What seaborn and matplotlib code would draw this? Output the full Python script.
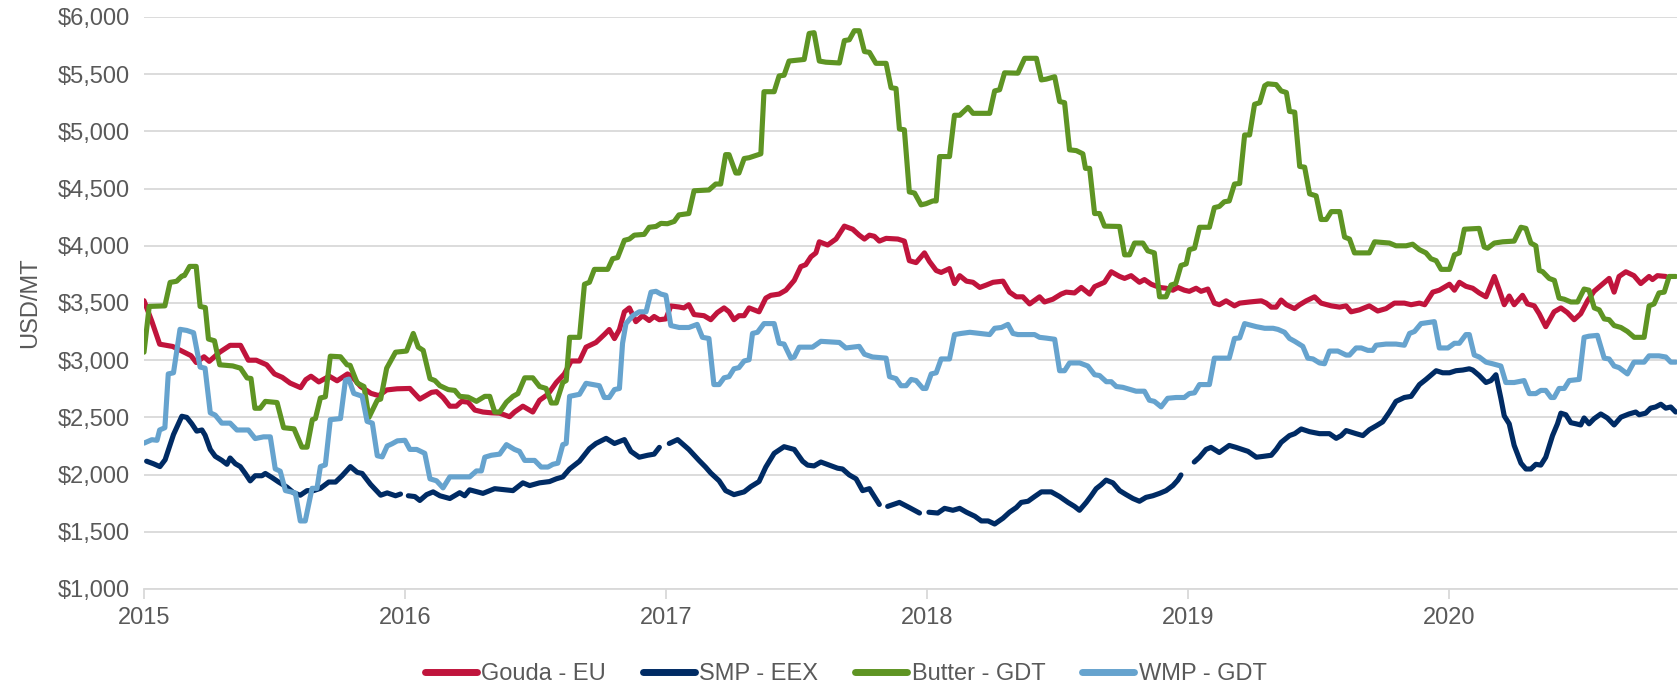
import numpy as np
import pandas as pd
import matplotlib
matplotlib.use('Agg')
import matplotlib.pyplot as plt
import seaborn as sns
from matplotlib.lines import Line2D
from matplotlib.ticker import FuncFormatter

# series names and colors (legend order)
series_names = ['Gouda - EU', 'SMP - EEX', 'Butter - GDT', 'WMP - GDT']
series_colors = ['#C0143C', '#002B64', '#5E9423', '#66A3CE']
year_ticks = [2015, 2016, 2017, 2018, 2019, 2020]

# values (decimal year, USD/MT)
gouda_t = [2015.000, 2015.030, 2015.060, 2015.110, 2015.180, 2015.200, 2015.230, 2015.250, 2015.290, 2015.330,
           2015.370, 2015.400, 2015.430, 2015.470, 2015.500, 2015.530, 2015.560, 2015.600, 2015.620, 2015.640,
           2015.670, 2015.710, 2015.740, 2015.780, 2015.800, 2015.830, 2015.870, 2015.900, 2015.930, 2015.970,
           2016.019, 2016.057, 2016.102, 2016.121, 2016.146, 2016.172, 2016.197, 2016.217, 2016.242, 2016.268,
           2016.299, 2016.331, 2016.363, 2016.401, 2016.420, 2016.452, 2016.490, 2016.516, 2016.548, 2016.580,
           2016.611, 2016.637, 2016.669, 2016.694, 2016.732, 2016.764, 2016.783, 2016.803, 2016.822, 2016.841,
           2016.860, 2016.885, 2016.911, 2016.936, 2016.955, 2016.975, 2017.000, 2017.019, 2017.051, 2017.069,
           2017.088, 2017.108, 2017.146, 2017.172, 2017.197, 2017.223, 2017.242, 2017.261, 2017.280, 2017.300,
           2017.319, 2017.357, 2017.383, 2017.402, 2017.434, 2017.460, 2017.492, 2017.517, 2017.536, 2017.556,
           2017.575, 2017.588, 2017.620, 2017.652, 2017.684, 2017.716, 2017.741, 2017.761, 2017.780, 2017.799,
           2017.818, 2017.844, 2017.889, 2017.914, 2017.933, 2017.959, 2017.991, 2018.010, 2018.036, 2018.055,
           2018.087, 2018.106, 2018.126, 2018.152, 2018.177, 2018.203, 2018.228, 2018.254, 2018.292, 2018.317,
           2018.343, 2018.368, 2018.394, 2018.432, 2018.451, 2018.483, 2018.515, 2018.534, 2018.566, 2018.592,
           2018.624, 2018.643, 2018.681, 2018.707, 2018.739, 2018.758, 2018.783, 2018.815, 2018.834, 2018.860,
           2018.892, 2018.917, 2018.943, 2018.962, 2018.987, 2019.006, 2019.032, 2019.051, 2019.077, 2019.102,
           2019.121, 2019.147, 2019.179, 2019.199, 2019.237, 2019.282, 2019.301, 2019.320, 2019.339, 2019.358,
           2019.378, 2019.409, 2019.429, 2019.454, 2019.486, 2019.511, 2019.550, 2019.582, 2019.607, 2019.626,
           2019.658, 2019.696, 2019.728, 2019.760, 2019.792, 2019.830, 2019.856, 2019.888, 2019.908, 2019.939,
           2019.964, 2020.003, 2020.022, 2020.041, 2020.066, 2020.092, 2020.117, 2020.143, 2020.175, 2020.194,
           2020.213, 2020.232, 2020.251, 2020.283, 2020.302, 2020.328, 2020.347, 2020.372, 2020.404, 2020.430,
           2020.455, 2020.481, 2020.506, 2020.532, 2020.557, 2020.589, 2020.615, 2020.634, 2020.653, 2020.679,
           2020.710, 2020.736, 2020.768, 2020.781, 2020.800, 2020.832]
gouda_v = [3520, 3340, 3140, 3120, 3040, 2980, 3030, 2990, 3070, 3130,
           3130, 3000, 3000, 2960, 2880, 2850, 2800, 2760, 2830, 2860,
           2810, 2860, 2820, 2880, 2850, 2770, 2710, 2690, 2740, 2750,
           2753, 2660, 2719, 2725, 2674, 2598, 2598, 2640, 2633, 2564,
           2547, 2540, 2537, 2506, 2547, 2598, 2547, 2650, 2702, 2805,
           2880, 2993, 2993, 3114, 3155, 3224, 3268, 3189, 3268, 3423,
           3457, 3337, 3389, 3347, 3382, 3354, 3361, 3474, 3465, 3457,
           3485, 3399, 3389, 3354, 3416, 3457, 3423, 3354, 3389, 3389,
           3457, 3423, 3543, 3567, 3578, 3612, 3698, 3818, 3835, 3904,
           3938, 4035, 4007, 4059, 4172, 4145, 4093, 4059, 4093, 4083,
           4041, 4065, 4059, 4041, 3870, 3853, 3938, 3863, 3784, 3767,
           3801, 3670, 3739, 3691, 3681, 3636, 3657, 3681, 3691, 3595,
           3554, 3554, 3492, 3554, 3509, 3533, 3578, 3595, 3588, 3636,
           3578, 3643, 3681, 3773, 3732, 3715, 3739, 3681, 3705, 3664,
           3636, 3629, 3612, 3636, 3612, 3602, 3629, 3602, 3622, 3499,
           3485, 3519, 3475, 3499, 3509, 3519, 3499, 3464, 3464, 3526,
           3485, 3451, 3485, 3519, 3554, 3499, 3475, 3464, 3475, 3423,
           3440, 3475, 3430, 3451, 3499, 3499, 3485, 3499, 3485, 3595,
           3612, 3664, 3612, 3681, 3646, 3629, 3588, 3554, 3732, 3612,
           3485, 3561, 3485, 3567, 3492, 3475, 3406, 3293, 3423, 3457,
           3416, 3354, 3406, 3519, 3602, 3664, 3715, 3595, 3732, 3773,
           3739, 3670, 3732, 3705, 3739, 3732]

# SMP has missing weeks (nan = gap in the line)
smp_t = [2015.010, 2015.036, 2015.061, 2015.081, 2015.113, 2015.145, 2015.164, 2015.183, 2015.202, 2015.222,
         2015.234, 2015.254, 2015.273, 2015.298, 2015.318, 2015.330, 2015.350, 2015.369, 2015.388, 2015.407,
         2015.426, 2015.452, 2015.465, 2015.490, 2015.516, 2015.548, 2015.574, 2015.599, 2015.625, 2015.650,
         2015.676, 2015.708, 2015.734, 2015.759, 2015.791, 2015.817, 2015.836, 2015.868, 2015.907, 2015.932,
         2015.964, 2015.983, 2015.995, 2016.013, 2016.038, 2016.057, 2016.083, 2016.108, 2016.134, 2016.172,
         2016.210, 2016.229, 2016.248, 2016.299, 2016.344, 2016.414, 2016.452, 2016.478, 2016.516, 2016.554,
         2016.580, 2016.605, 2016.631, 2016.669, 2016.707, 2016.732, 2016.771, 2016.803, 2016.841, 2016.866,
         2016.898, 2016.930, 2016.955, 2016.975, 2016.992, 2017.013, 2017.045, 2017.088, 2017.127, 2017.152,
         2017.172, 2017.204, 2017.229, 2017.261, 2017.300, 2017.325, 2017.357, 2017.383, 2017.415, 2017.453,
         2017.492, 2017.524, 2017.543, 2017.568, 2017.594, 2017.626, 2017.658, 2017.677, 2017.703, 2017.729,
         2017.754, 2017.780, 2017.818, 2017.834, 2017.850, 2017.895, 2017.933, 2017.972, 2017.990, 2018.008,
         2018.042, 2018.068, 2018.100, 2018.126, 2018.152, 2018.184, 2018.209, 2018.235, 2018.260, 2018.292,
         2018.317, 2018.343, 2018.362, 2018.388, 2018.413, 2018.439, 2018.477, 2018.509, 2018.541, 2018.566,
         2018.585, 2018.611, 2018.630, 2018.649, 2018.668, 2018.687, 2018.713, 2018.739, 2018.764, 2018.790,
         2018.815, 2018.840, 2018.866, 2018.892, 2018.917, 2018.943, 2018.962, 2018.974, 2018.998, 2019.025,
         2019.045, 2019.070, 2019.089, 2019.121, 2019.159, 2019.185, 2019.231, 2019.263, 2019.288, 2019.320,
         2019.339, 2019.358, 2019.390, 2019.410, 2019.435, 2019.467, 2019.505, 2019.543, 2019.569, 2019.588,
         2019.607, 2019.645, 2019.671, 2019.696, 2019.722, 2019.747, 2019.773, 2019.798, 2019.830, 2019.856,
         2019.888, 2019.913, 2019.952, 2019.977, 2020.003, 2020.028, 2020.054, 2020.079, 2020.092, 2020.117,
         2020.143, 2020.162, 2020.181, 2020.200, 2020.213, 2020.232, 2020.251, 2020.277, 2020.296, 2020.315,
         2020.334, 2020.353, 2020.372, 2020.398, 2020.417, 2020.430, 2020.449, 2020.468, 2020.488, 2020.506,
         2020.519, 2020.538, 2020.557, 2020.583, 2020.608, 2020.634, 2020.660, 2020.691, 2020.717, 2020.730,
         2020.755, 2020.774, 2020.793, 2020.813, 2020.832, 2020.851, 2020.870]
smp_v = [2117, 2095, 2070, 2130, 2350, 2510, 2500, 2445, 2380, 2390,
         2345, 2220, 2160, 2125, 2090, 2145, 2095, 2070, 2010, 1945,
         1990, 1990, 2010, 1975, 1935, 1890, 1840, 1820, 1860, 1860,
         1880, 1935, 1935, 1990, 2070, 2020, 2010, 1915, 1820, 1840,
         1815, 1830, np.nan, 1815, 1808, 1774, 1825, 1849, 1815, 1791,
         1842, 1815, 1867, 1836, 1877, 1860, 1928, 1904, 1928, 1939,
         1963, 1980, 2049, 2117, 2227, 2272, 2317, 2272, 2306, 2203,
         2152, 2169, 2179, 2238, np.nan, 2272, 2306, 2220, 2124, 2066,
         2014, 1946, 1860, 1825, 1849, 1894, 1939, 2066, 2186, 2244,
         2220, 2117, 2083, 2076, 2110, 2083, 2056, 2049, 1997, 1963,
         1860, 1877, 1739, np.nan, 1722, 1757, 1712, 1664, np.nan, 1671,
         1664, 1705, 1688, 1705, 1671, 1636, 1595, 1595, 1568, 1619,
         1671, 1712, 1757, 1767, 1808, 1849, 1849, 1808, 1757, 1722,
         1688, 1757, 1815, 1877, 1911, 1952, 1928, 1860, 1825, 1791,
         1767, 1801, 1815, 1836, 1860, 1904, 1952, 1997, np.nan, 2110,
         2152, 2220, 2238, 2193, 2255, 2238, 2203, 2152, 2159, 2169,
         2220, 2282, 2341, 2358, 2399, 2375, 2358, 2358, 2317, 2341,
         2385, 2358, 2341, 2392, 2426, 2461, 2547, 2640, 2674, 2684,
         2787, 2832, 2908, 2890, 2890, 2908, 2914, 2925, 2914, 2866,
         2805, 2822, 2873, 2667, 2513, 2444, 2255, 2100, 2049, 2049,
         2090, 2083, 2152, 2341, 2444, 2537, 2523, 2454, 2444, 2434,
         2495, 2444, 2488, 2530, 2495, 2434, 2502, 2530, 2547, 2523,
         2537, 2581, 2591, 2615, 2581, 2591, 2547]

butter_t = [2015.000, 2015.020, 2015.080, 2015.100, 2015.125, 2015.145, 2015.155, 2015.175, 2015.200, 2015.215,
            2015.235, 2015.247, 2015.270, 2015.290, 2015.340, 2015.370, 2015.395, 2015.410, 2015.425, 2015.445,
            2015.465, 2015.510, 2015.535, 2015.575, 2015.605, 2015.625, 2015.645, 2015.657, 2015.676, 2015.695,
            2015.714, 2015.753, 2015.778, 2015.790, 2015.817, 2015.843, 2015.862, 2015.894, 2015.907, 2015.930,
            2015.964, 2016.006, 2016.032, 2016.051, 2016.070, 2016.096, 2016.115, 2016.134, 2016.166, 2016.191,
            2016.210, 2016.242, 2016.274, 2016.306, 2016.325, 2016.344, 2016.363, 2016.389, 2016.414, 2016.433,
            2016.459, 2016.490, 2016.516, 2016.541, 2016.561, 2016.580, 2016.605, 2016.618, 2016.631, 2016.669,
            2016.688, 2016.707, 2016.726, 2016.777, 2016.796, 2016.815, 2016.841, 2016.860, 2016.879, 2016.917,
            2016.936, 2016.962, 2016.981, 2017.006, 2017.032, 2017.050, 2017.088, 2017.108, 2017.165, 2017.191,
            2017.210, 2017.229, 2017.242, 2017.268, 2017.280, 2017.300, 2017.319, 2017.364, 2017.376, 2017.415,
            2017.434, 2017.453, 2017.472, 2017.530, 2017.549, 2017.568, 2017.588, 2017.613, 2017.665, 2017.684,
            2017.703, 2017.722, 2017.741, 2017.761, 2017.780, 2017.805, 2017.844, 2017.863, 2017.882, 2017.895,
            2017.914, 2017.933, 2017.953, 2017.978, 2017.997, 2018.023, 2018.036, 2018.049, 2018.087, 2018.106,
            2018.126, 2018.158, 2018.177, 2018.241, 2018.260, 2018.279, 2018.298, 2018.349, 2018.375, 2018.420,
            2018.439, 2018.458, 2018.490, 2018.509, 2018.528, 2018.547, 2018.573, 2018.598, 2018.608, 2018.624,
            2018.643, 2018.662, 2018.681, 2018.739, 2018.758, 2018.777, 2018.796, 2018.828, 2018.847, 2018.872,
            2018.892, 2018.917, 2018.936, 2018.954, 2018.974, 2018.994, 2019.006, 2019.026, 2019.045, 2019.083,
            2019.102, 2019.121, 2019.140, 2019.159, 2019.179, 2019.199, 2019.218, 2019.237, 2019.256, 2019.276,
            2019.295, 2019.307, 2019.339, 2019.358, 2019.378, 2019.390, 2019.410, 2019.429, 2019.448, 2019.467,
            2019.492, 2019.511, 2019.531, 2019.550, 2019.582, 2019.601, 2019.620, 2019.639, 2019.696, 2019.716,
            2019.773, 2019.798, 2019.837, 2019.862, 2019.888, 2019.913, 2019.932, 2019.952, 2019.971, 2020.003,
            2020.022, 2020.041, 2020.060, 2020.117, 2020.136, 2020.149, 2020.175, 2020.207, 2020.251, 2020.277,
            2020.296, 2020.315, 2020.334, 2020.347, 2020.360, 2020.385, 2020.405, 2020.423, 2020.443, 2020.468,
            2020.494, 2020.519, 2020.538, 2020.558, 2020.577, 2020.596, 2020.615, 2020.634, 2020.660, 2020.685,
            2020.711, 2020.749, 2020.768, 2020.787, 2020.806, 2020.826, 2020.845, 2020.870]
butter_v = [3070, 3470, 3475, 3680, 3690, 3735, 3740, 3820, 3820, 3470,
            3460, 3185, 3170, 2960, 2950, 2930, 2845, 2840, 2580, 2580,
            2640, 2630, 2410, 2400, 2240, 2240, 2480, 2490, 2670, 2680,
            3035, 3030, 2960, 2955, 2800, 2770, 2500, 2650, 2660, 2930,
            3070, 3080, 3234, 3114, 3086, 2839, 2822, 2777, 2743, 2736,
            2684, 2677, 2640, 2684, 2684, 2547, 2547, 2633, 2684, 2708,
            2846, 2846, 2770, 2753, 2626, 2626, 2805, 2822, 3200, 3200,
            3664, 3681, 3794, 3794, 3887, 3897, 4048, 4059, 4093, 4100,
            4162, 4169, 4196, 4193, 4213, 4270, 4282, 4481, 4488, 4540,
            4540, 4797, 4797, 4636, 4636, 4763, 4770, 4804, 5347, 5347,
            5485, 5491, 5615, 5629, 5856, 5863, 5615, 5605, 5598, 5794,
            5801, 5880, 5880, 5698, 5691, 5595, 5595, 5382, 5375, 5021,
            5014, 4471, 4461, 4358, 4368, 4392, 4392, 4780, 4780, 5141,
            5141, 5210, 5158, 5158, 5354, 5364, 5512, 5509, 5639, 5639,
            5450, 5457, 5478, 5261, 5251, 4839, 4832, 4804, 4677, 4677,
            4282, 4282, 4172, 4169, 3921, 3921, 4024, 4024, 3956, 3938,
            3554, 3554, 3657, 3670, 3828, 3842, 3966, 3979, 4162, 4162,
            4334, 4344, 4385, 4392, 4540, 4545, 4969, 4969, 5237, 5251,
            5399, 5416, 5409, 5354, 5340, 5175, 5168, 4694, 4687, 4454,
            4437, 4230, 4230, 4299, 4299, 4076, 4059, 3938, 3938, 4035,
            4024, 4000, 4000, 4014, 3966, 3938, 3887, 3870, 3794, 3794,
            3921, 3938, 4145, 4152, 3990, 3979, 4024, 4035, 4041, 4162,
            4152, 4024, 4000, 3784, 3774, 3715, 3698, 3543, 3533, 3509,
            3509, 3622, 3612, 3457, 3440, 3361, 3354, 3303, 3286, 3251,
            3200, 3200, 3475, 3492, 3588, 3595, 3732, 3732]

wmp_t = [2015.000, 2015.030, 2015.050, 2015.060, 2015.080, 2015.093, 2015.113, 2015.138, 2015.164, 2015.190,
         2015.215, 2015.234, 2015.254, 2015.273, 2015.298, 2015.330, 2015.356, 2015.400, 2015.426, 2015.458,
         2015.484, 2015.503, 2015.522, 2015.542, 2015.580, 2015.599, 2015.618, 2015.644, 2015.663, 2015.676,
         2015.695, 2015.714, 2015.753, 2015.772, 2015.785, 2015.804, 2015.836, 2015.855, 2015.875, 2015.894,
         2015.913, 2015.932, 2015.951, 2015.971, 2016.000, 2016.019, 2016.045, 2016.076, 2016.096, 2016.121,
         2016.146, 2016.172, 2016.248, 2016.274, 2016.293, 2016.306, 2016.331, 2016.363, 2016.389, 2016.420,
         2016.439, 2016.459, 2016.497, 2016.522, 2016.548, 2016.567, 2016.586, 2016.605, 2016.618, 2016.631,
         2016.669, 2016.694, 2016.720, 2016.745, 2016.764, 2016.783, 2016.803, 2016.822, 2016.834, 2016.847,
         2016.873, 2016.898, 2016.924, 2016.943, 2016.962, 2016.981, 2017.000, 2017.019, 2017.051, 2017.088,
         2017.120, 2017.140, 2017.165, 2017.184, 2017.204, 2017.223, 2017.242, 2017.261, 2017.280, 2017.300,
         2017.319, 2017.332, 2017.351, 2017.376, 2017.415, 2017.434, 2017.453, 2017.479, 2017.492, 2017.511,
         2017.562, 2017.594, 2017.665, 2017.690, 2017.716, 2017.741, 2017.761, 2017.792, 2017.844, 2017.857,
         2017.882, 2017.901, 2017.921, 2017.940, 2017.959, 2017.985, 2017.997, 2018.017, 2018.036, 2018.055,
         2018.087, 2018.106, 2018.132, 2018.165, 2018.203, 2018.241, 2018.260, 2018.286, 2018.311, 2018.330,
         2018.349, 2018.413, 2018.432, 2018.458, 2018.490, 2018.509, 2018.528, 2018.547, 2018.586, 2018.617,
         2018.643, 2018.662, 2018.688, 2018.707, 2018.726, 2018.751, 2018.802, 2018.834, 2018.853, 2018.872,
         2018.898, 2018.923, 2018.955, 2018.987, 2019.006, 2019.026, 2019.045, 2019.083, 2019.102, 2019.159,
         2019.179, 2019.199, 2019.218, 2019.263, 2019.295, 2019.327, 2019.346, 2019.371, 2019.390, 2019.410,
         2019.441, 2019.460, 2019.480, 2019.505, 2019.524, 2019.543, 2019.575, 2019.607, 2019.620, 2019.645,
         2019.665, 2019.690, 2019.709, 2019.722, 2019.760, 2019.798, 2019.830, 2019.850, 2019.869, 2019.894,
         2019.945, 2019.964, 2019.997, 2020.022, 2020.041, 2020.066, 2020.079, 2020.098, 2020.117, 2020.143,
         2020.168, 2020.200, 2020.219, 2020.251, 2020.289, 2020.309, 2020.334, 2020.353, 2020.372, 2020.392,
         2020.404, 2020.423, 2020.443, 2020.462, 2020.500, 2020.519, 2020.538, 2020.570, 2020.596, 2020.615,
         2020.634, 2020.653, 2020.685, 2020.710, 2020.749, 2020.768, 2020.806, 2020.832, 2020.851, 2020.870]
wmp_v = [2275, 2305, 2300, 2390, 2410, 2880, 2890, 3270, 3260, 3240,
         2940, 2930, 2540, 2520, 2450, 2450, 2390, 2390, 2315, 2330,
         2330, 2050, 2030, 1860, 1840, 1595, 1595, 1880, 1880, 2070,
         2085, 2480, 2490, 2825, 2835, 2710, 2685, 2465, 2450, 2165,
         2155, 2250, 2270, 2295, 2300, 2220, 2220, 2186, 1963, 1946,
         1884, 1980, 1980, 2032, 2032, 2152, 2169, 2179, 2262, 2220,
         2203, 2124, 2124, 2066, 2066, 2090, 2100, 2262, 2272, 2684,
         2702, 2798, 2787, 2777, 2674, 2674, 2743, 2753, 3148, 3320,
         3389, 3423, 3423, 3595, 3602, 3578, 3567, 3303, 3286, 3286,
         3313, 3200, 3190, 2787, 2787, 2846, 2856, 2925, 2935, 2993,
         3004, 3234, 3244, 3320, 3320, 3148, 3141, 3018, 3028, 3114,
         3114, 3165, 3155, 3107, 3114, 3121, 3052, 3028, 3018, 2856,
         2839, 2777, 2777, 2832, 2822, 2753, 2753, 2880, 2890, 3011,
         3011, 3224, 3234, 3244, 3234, 3224, 3279, 3286, 3313, 3234,
         3224, 3224, 3200, 3193, 3183, 2908, 2908, 2976, 2976, 2949,
         2873, 2866, 2812, 2812, 2770, 2763, 2729, 2729, 2650, 2640,
         2592, 2667, 2674, 2674, 2708, 2715, 2787, 2787, 3018, 3018,
         3190, 3195, 3320, 3293, 3279, 3279, 3269, 3244, 3190, 3165,
         3121, 3018, 3011, 2976, 2969, 3080, 3080, 3045, 3045, 3107,
         3107, 3086, 3086, 3131, 3141, 3141, 3131, 3234, 3251, 3320,
         3337, 3107, 3107, 3148, 3148, 3224, 3224, 3045, 3028, 2983,
         2969, 2949, 2805, 2805, 2822, 2708, 2708, 2736, 2736, 2674,
         2674, 2753, 2753, 2822, 2832, 3200, 3210, 3217, 3018, 3011,
         2949, 2935, 2880, 2983, 2983, 3038, 3038, 3028, 2983, 2983]

# long table, one segment id per unbroken piece of line
frames = []
for name, t, v in zip(series_names, [gouda_t, smp_t, butter_t, wmp_t], [gouda_v, smp_v, butter_v, wmp_v]):
    d = pd.DataFrame({'year': t, 'price': v, 'series': name})
    d['segment'] = d['price'].isna().cumsum()
    frames.append(d.dropna(subset=['price']))
df = pd.concat(frames, ignore_index=True)
df['seg_id'] = df['series'] + '_' + df['segment'].astype(str)

sns.set_theme(style='white')
plt.rcParams['font.family'] = ['Liberation Sans', 'DejaVu Sans']
text_col = '#595959'
grid_col = '#D9D9D9'

fig = plt.figure(figsize=(16.81, 6.83), dpi=100)
ax = fig.add_axes([144 / 1681, 1 - 589 / 683, (1677 - 144) / 1681, (589 - 17) / 683])

palette = dict(zip(series_names, series_colors))
sns.lineplot(data=df, x='year', y='price', hue='series', hue_order=series_names,
             units='seg_id', estimator=None, sort=False, palette=palette,
             linewidth=3.7, legend=False, ax=ax,
             solid_joinstyle='round', solid_capstyle='round')

ax.set_xlim(2015, 2020.875)
ax.set_ylim(1000, 6000)
ax.set_yticks(range(1000, 6001, 500))
ax.yaxis.set_major_formatter(FuncFormatter(lambda x, p: f'${x:,.0f}'))
ax.set_xticks(year_ticks)
ax.set_xticklabels([str(y) for y in year_ticks])
ax.yaxis.grid(True, color=grid_col, linewidth=1.3)
ax.xaxis.grid(False)
ax.set_axisbelow(True)
for s in ['left', 'right', 'top']:
    ax.spines[s].set_visible(False)
ax.spines['bottom'].set_color(grid_col)
ax.spines['bottom'].set_linewidth(1.3)
ax.tick_params(axis='x', length=7, width=1.3, color=grid_col, labelsize=17, labelcolor=text_col, pad=6, direction='out', bottom=True)
ax.tick_params(axis='y', length=0, labelsize=17, labelcolor=text_col, pad=10)
ax.set_xlabel('')
ax.set_ylabel('USD/MT', fontsize=17, color=text_col, labelpad=12)

handles = [Line2D([0], [0], color=c, linewidth=5, solid_capstyle='round') for c in series_colors]
fig.legend(handles, series_names, loc='center', bbox_to_anchor=(0.503, 0.013), ncol=4, frameon=False,
           fontsize=17, labelcolor=text_col, handlelength=2.2, handletextpad=0.2, columnspacing=1.55)

fig.savefig('out.png', dpi=100)
